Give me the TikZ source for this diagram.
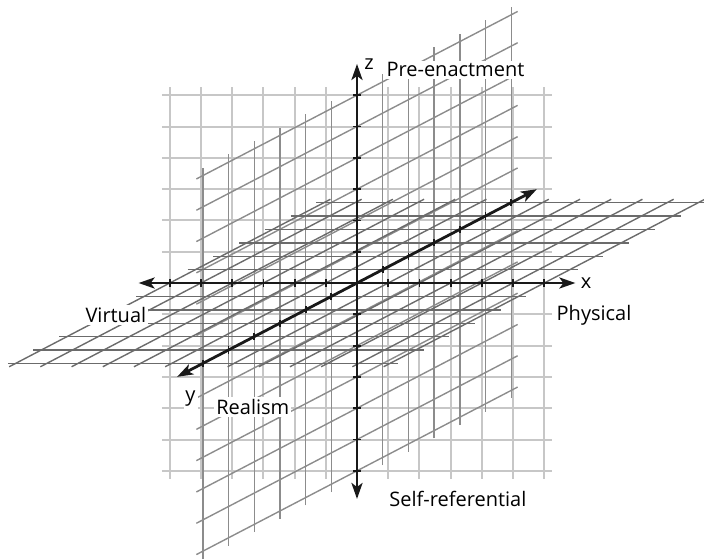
\documentclass[tikz,border=0pt]{standalone}
\usepackage{fontspec}
\setmainfont{Open Sans}
\usetikzlibrary{positioning,arrows.meta}

\begin{document}
\begin{tikzpicture}[x={(15.6pt,0pt)}, y={(-12.85pt,-6.7pt)}, z={(0pt,15.65pt)},
  xzgrid/.style={draw=black!22,line width=1pt},
  yzgrid/.style={draw=black!45,line width=0.7pt},
  xygrid/.style={draw=black!58,line width=0.7pt},
  axisline/.style={draw=black!90,line width=1.4pt,{Stealth[length=8pt,width=5.5pt,inset=2pt]}-{Stealth[length=8pt,width=5.5pt,inset=2pt]}},
  axtick/.style={draw=black!90,line width=0.9pt},
  lbl/.style={fill=white,inner sep=1pt,font=\fontsize{10}{12}\selectfont}]
\useasboundingbox (-178.5pt,-138pt) rectangle (173.5pt,141.5pt);
\foreach \i in {1,...,6} {
  \draw[xzgrid] (\i,0,-6.25) -- (\i,0,6.25);
  \draw[xzgrid] (-\i,0,-6.25) -- (-\i,0,6.25);
  \draw[xzgrid] (-6.25,0,\i) -- (6.25,0,\i);
  \draw[xzgrid] (-6.25,0,-\i) -- (6.25,0,-\i);
}
\foreach \i in {1,...,6} {
  \draw[yzgrid] (0,\i,-6.25) -- (0,\i,6.25);
  \draw[yzgrid] (0,-\i,-6.25) -- (0,-\i,6.25);
  \draw[yzgrid] (0,-6.25,\i) -- (0,6.25,\i);
  \draw[yzgrid] (0,-6.25,-\i) -- (0,6.25,-\i);
}
\foreach \i in {1,...,6} {
  \draw[xygrid] (-6.25,\i,0) -- (6.25,\i,0);
  \draw[xygrid] (-6.25,-\i,0) -- (6.25,-\i,0);
  \draw[xygrid] (\i,-6.25,0) -- (\i,6.25,0);
  \draw[xygrid] (-\i,-6.25,0) -- (-\i,6.25,0);
}
\coordinate (xneg) at (-7,0,0);
\coordinate (xpos) at (7,0,0);
\coordinate (yfar) at (0,-7,0);
\coordinate (ytip) at (0,7,0);
\coordinate (zneg) at (0,0,-6.9);
\coordinate (zpos) at (0,0,7);
\draw[axisline] (xneg) -- (xpos);
\draw[axisline] (ytip) -- (yfar);
\draw[axisline] (zneg) -- (zpos);
\foreach \i in {1,...,6} {
  \draw[axtick] (\i,0,0) ++(0pt,-1.8pt) -- ++(0pt,3.6pt);
  \draw[axtick] (-\i,0,0) ++(0pt,-1.8pt) -- ++(0pt,3.6pt);
  \draw[axtick] (0,\i,0) ++(0pt,-1.8pt) -- ++(0pt,3.6pt);
  \draw[axtick] (0,-\i,0) ++(0pt,-1.8pt) -- ++(0pt,3.6pt);
  \draw[axtick] (0,0,\i) ++(-1.8pt,0pt) -- ++(3.6pt,0pt);
  \draw[axtick] (0,0,-\i) ++(-1.8pt,0pt) -- ++(3.6pt,0pt);
}
\node[lbl,right=2.5pt of zpos] (zlab) {z};
\node[lbl,right=4pt of zlab,yshift=-3pt] (pre) {Pre-enactment};
\node[lbl,right=1.5pt of xpos] (xlab) {x};
\node[lbl,below=6pt of xlab,xshift=4pt] (phys) {Physical};
\node[lbl,below=11pt of xneg,anchor=north east,xshift=5pt] (virt) {Virtual};
\node[lbl,below right=6pt and 3pt of ytip] (ylab) {y};
\node[lbl,right=8pt of ylab,yshift=-4pt] (real) {Realism};
\node[lbl,right=15pt of zneg] (self) {Self-referential};
\end{tikzpicture}
\end{document}
